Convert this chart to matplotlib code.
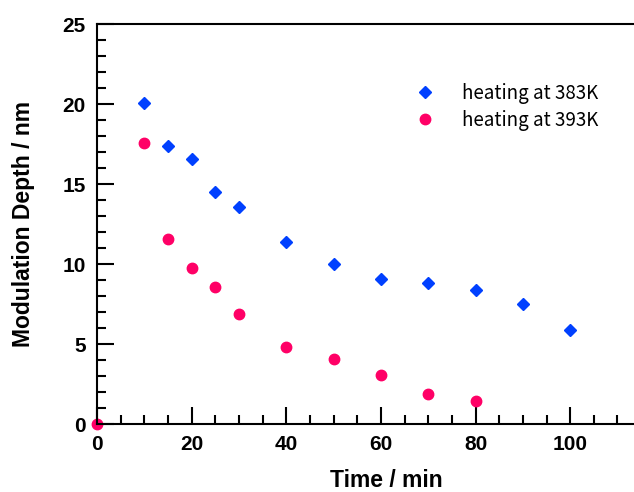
import matplotlib
matplotlib.use("Agg")
import matplotlib.pyplot as plt
from matplotlib.ticker import MultipleLocator

# heating runs: time (min) vs modulation depth (nm)
t_383 = [10, 15, 20, 25, 30, 40, 50, 60, 70, 80, 90, 100]
d_383 = [20.1, 17.4, 16.6, 14.5, 13.6, 11.4, 10.0, 9.1, 8.8, 8.4, 7.5, 5.9]

t_393 = [0, 10, 15, 20, 25, 30, 40, 50, 60, 70, 80]
d_393 = [0.0, 17.6, 11.6, 9.75, 8.6, 6.9, 4.8, 4.1, 3.1, 1.9, 1.45]

blue = "#0040ff"
pink = "#ff0066"

fig = plt.figure(figsize=(6.34, 4.92), dpi=100)
# axes runs off the right edge of the figure
ax = fig.add_axes([0.153, 0.138, 0.912, 0.813])

ax.plot(t_383, d_383, "D", color=blue, markersize=6, label="heating at 383K", clip_on=False)
ax.plot(t_393, d_393, "o", color=pink, markersize=7.5, label="heating at 393K", clip_on=False)

ax.set_xlim(0, 122.2)
ax.set_ylim(0, 25)
ax.xaxis.set_major_locator(MultipleLocator(20))
ax.xaxis.set_minor_locator(MultipleLocator(5))
ax.yaxis.set_major_locator(MultipleLocator(5))
ax.yaxis.set_minor_locator(MultipleLocator(1))
ax.set_xticks([0, 20, 40, 60, 80, 100])

ax.spines["right"].set_visible(False)
for s in ["left", "bottom", "top"]:
    ax.spines[s].set_linewidth(1.5)
ax.tick_params(which="major", direction="in", length=12.5, width=1.5, pad=8)
ax.tick_params(which="minor", direction="in", length=6.5, width=1.5)
ax.tick_params(top=False, right=False, which="both")

for lab in ax.get_xticklabels() + ax.get_yticklabels():
    lab.set_fontfamily("Liberation Sans")
    lab.set_fontweight("bold")
    lab.set_fontsize(15)

ax.set_xlabel("Time / min", fontsize=16.5, fontweight="bold", family="Liberation Sans", labelpad=11)
ax.set_ylabel("Modulation Depth / nm", fontsize=16.5, fontweight="bold", family="Liberation Sans", labelpad=20)

ax.legend(loc="upper left", bbox_to_anchor=(406 / 634, 1 - 83 / 492),
          bbox_transform=fig.transFigure, frameon=False,
          prop={"family": ["Noto Sans CJK JP", "DejaVu Sans"], "size": 13.5},
          handlelength=2, handletextpad=1.0, labelspacing=0.3, borderpad=0,
          borderaxespad=0)

fig.savefig("out.png", dpi=100)
